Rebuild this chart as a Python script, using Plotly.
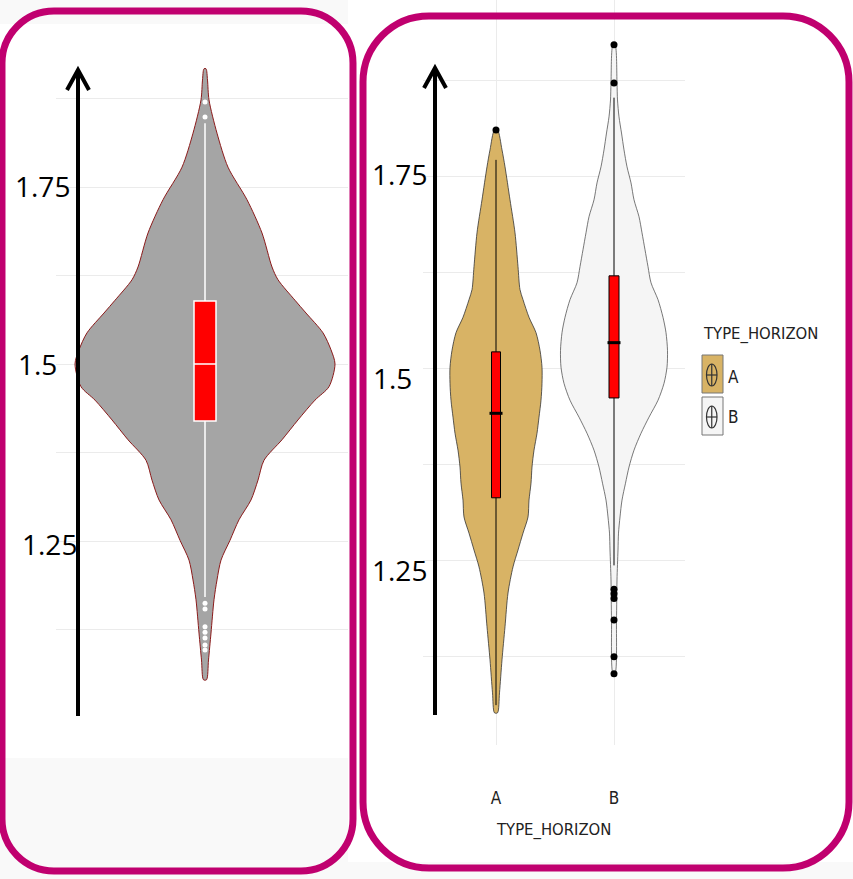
import plotly.graph_objects as go

W, H = 853, 879

# ---------------- data ----------------
# Overall distribution (left panel): value levels and violin half-width (density, px-scaled)
all_vals = [1.917, 1.901, 1.873, 1.826, 1.778, 1.732, 1.685, 1.637, 1.619, 1.590,
            1.572, 1.544, 1.520, 1.500, 1.468, 1.449, 1.421, 1.393, 1.364, 1.336,
            1.308, 1.280, 1.251, 1.223, 1.195, 1.167, 1.120, 1.082, 1.054]
all_dens = [1, 2.5, 4, 12, 23, 42, 57, 67, 73, 90,
            101, 118, 126, 130, 124, 110, 93, 77, 59, 53,
            46, 34, 25, 16, 12, 9, 6, 3.5, 1.5]
all_box = dict(q1=1.4195, median=1.500, q3=1.589, lo=1.171, hi=1.840)
all_outliers = [1.870, 1.849, 1.162, 1.154, 1.129, 1.121, 1.113, 1.103, 1.096]

# By TYPE_HORIZON (right panel)
categories = ["A", "B"]
a_vals = [1.810, 1.784, 1.762, 1.719, 1.676, 1.632, 1.602, 1.589, 1.566, 1.546,
          1.523, 1.501, 1.480, 1.458, 1.436, 1.415, 1.393, 1.371, 1.350, 1.328,
          1.306, 1.285, 1.263, 1.241, 1.207, 1.163, 1.120, 1.077, 1.051]
a_dens = [1.5, 6, 9, 14, 19, 22, 24, 27, 33, 40,
          44, 46, 46, 45, 43, 41, 38, 36, 35, 33,
          32, 27, 22, 17, 12, 9, 6, 3.5, 1.5]
b_vals = [1.921, 1.871, 1.849, 1.827, 1.806, 1.784, 1.762, 1.741, 1.719, 1.697,
          1.676, 1.654, 1.632, 1.611, 1.589, 1.566, 1.546, 1.523, 1.501, 1.480,
          1.458, 1.436, 1.415, 1.393, 1.371, 1.350, 1.328, 1.306, 1.285, 1.263,
          1.224, 1.172, 1.102]
b_dens = [1, 3, 3.5, 5, 7.5, 10, 13, 17, 20, 25,
          28, 31, 34, 37, 44, 49, 52, 53.5, 53, 50,
          44, 35, 27, 20, 15, 11.5, 8, 6, 4.5, 4,
          3, 2.5, 1]
a_box = dict(q1=1.331, median=1.441, q3=1.521, lo=1.061, hi=1.771)
b_box = dict(q1=1.461, median=1.533, q3=1.620, lo=1.243, hi=1.852)
a_outliers = [1.810]
b_outliers = [1.921, 1.871, 1.212, 1.206, 1.200, 1.172, 1.124, 1.102]

# y-axis tick labels
left_ticks = ["1.75", "1.5", "1.25"]
right_ticks = ["1.75", "1.5", "1.25"]

# ---------------- styling ----------------
MAGENTA = "#c0006f"
GRID = "#ebebeb"
FILL_ALL = "#a5a5a5"
FILL_A = "#d8b365"
FILL_B = "#f5f5f5"
NARROW = "Liberation Sans Narrow, DejaVu Sans Condensed, Arial Narrow, sans-serif"
LABEL_FONT = "Open Sans, Noto Sans, sans-serif"

L_SCALE = 130.0   # density units per x-axis unit (left)
R_SCALE = 118.0   # density units per x-axis unit (right)


def px(x):
    return x / W


def py(y):
    return 1 - y / H


def violin_outline(pos, vals, dens, scale):
    xs = [pos + d / scale for d in dens] + [pos - d / scale for d in reversed(dens)]
    ys = list(vals) + list(reversed(vals))
    return xs + [xs[0]], ys + [ys[0]]


fig = go.Figure()

# ---- left panel: violin on (x, y), box + points on the overlaid (x3, y3) ----
xs, ys = violin_outline(0, all_vals, all_dens, L_SCALE)
fig.add_trace(go.Scatter(x=xs, y=ys, fill="toself", fillcolor=FILL_ALL, mode="lines",
                         line=dict(color="#8b1a1a", width=1, shape="spline", smoothing=0.8),
                         xaxis="x", yaxis="y", hoverinfo="skip", showlegend=False))
fig.add_trace(go.Box(x=[0], q1=[all_box["q1"]], median=[all_box["median"]], q3=[all_box["q3"]],
                     lowerfence=[all_box["lo"]], upperfence=[all_box["hi"]], orientation="v",
                     width=22 / L_SCALE, whiskerwidth=0, fillcolor="#ff0000",
                     line=dict(color="white", width=1.5), boxpoints=False,
                     xaxis="x3", yaxis="y3", showlegend=False))
fig.add_trace(go.Scatter(x=[0] * len(all_outliers), y=all_outliers, mode="markers",
                         marker=dict(color="white", size=5), xaxis="x3", yaxis="y3",
                         hoverinfo="skip", showlegend=False))

# ---- right panel: violins on (x2, y2), boxes + points on the overlaid (x4, y4) ----
groups = [
    (0, a_vals, a_dens, a_box, a_outliers, FILL_A, "#333333", 9),
    (1, b_vals, b_dens, b_box, b_outliers, FILL_B, "#555555", 10),
]
for pos, vals, dens, box, outl, fillc, linec, bw in groups:
    xs, ys = violin_outline(pos, vals, dens, R_SCALE)
    fig.add_trace(go.Scatter(x=xs, y=ys, fill="toself", fillcolor=fillc, mode="lines",
                             line=dict(color=linec, width=0.8, shape="spline", smoothing=0.8),
                             xaxis="x2", yaxis="y2", hoverinfo="skip", showlegend=False))
for pos, vals, dens, box, outl, fillc, linec, bw in groups:
    fig.add_trace(go.Box(x=[pos], q1=[box["q1"]], median=[box["median"]], q3=[box["q3"]],
                         lowerfence=[box["lo"]], upperfence=[box["hi"]], orientation="v",
                         width=bw / R_SCALE, whiskerwidth=0, fillcolor="#ff0000",
                         line=dict(color="black", width=1), boxpoints=False,
                         xaxis="x4", yaxis="y4", showlegend=False))
    fig.add_trace(go.Scatter(x=[pos - 6.5 / R_SCALE, pos + 6.5 / R_SCALE],
                             y=[box["median"], box["median"]], mode="lines",
                             line=dict(color="black", width=3), xaxis="x4", yaxis="y4",
                             hoverinfo="skip", showlegend=False))
    fig.add_trace(go.Scatter(x=[pos] * len(outl), y=outl, mode="markers",
                             marker=dict(color="black", size=7), xaxis="x4", yaxis="y4",
                             hoverinfo="skip", showlegend=False))

# ---------------- axes ----------------
L_XDOM = [px(56), px(348)]
L_XRNG = [(56 - 205) / L_SCALE, (348 - 205) / L_SCALE]
L_YDOM = [py(705), py(24)]
L_YRNG = [1.5 - (705 - 364) / 708, 1.5 + (364 - 24) / 708]
R_XDOM = [px(423), px(685)]
R_XRNG = [(423 - 496) / R_SCALE, (685 - 496) / R_SCALE]
R_YDOM = [py(745), 1]
R_YRNG = [1.5 - (745 - 368) / 768, 1.5 + 368 / 768]

hidden = dict(visible=False, showgrid=False, zeroline=False, fixedrange=True)

fig.update_layout(
    width=W, height=H, margin=dict(l=0, r=0, t=0, b=0),
    paper_bgcolor="white", plot_bgcolor="white", showlegend=False,
    xaxis=dict(domain=L_XDOM, range=L_XRNG, anchor="y",
               showgrid=False, zeroline=False, showticklabels=False, ticks="", fixedrange=True),
    yaxis=dict(domain=L_YDOM, range=L_YRNG, anchor="x",
               tick0=1.5, dtick=0.125, showgrid=True, gridcolor=GRID, gridwidth=1,
               zeroline=False, showticklabels=False, ticks="", fixedrange=True),
    xaxis2=dict(domain=R_XDOM, range=R_XRNG,
                anchor="y2", tickvals=[0, 1], ticktext=categories, showgrid=True,
                gridcolor=GRID, gridwidth=1, zeroline=False, ticks="outside", ticklen=38,
                tickcolor="rgba(0,0,0,0)", tickfont=dict(family=NARROW, size=17, color="#222"),
                fixedrange=True),
    yaxis2=dict(domain=R_YDOM, range=R_YRNG,
                anchor="x2", tick0=1.5, dtick=0.125, showgrid=True, gridcolor=GRID, gridwidth=1,
                zeroline=False, showticklabels=False, ticks="", fixedrange=True),
    xaxis3=dict(overlaying="x", range=L_XRNG, anchor="y3", **hidden),
    yaxis3=dict(overlaying="y", range=L_YRNG, anchor="x3", **hidden),
    xaxis4=dict(overlaying="x2", range=R_XRNG, anchor="y4", **hidden),
    yaxis4=dict(overlaying="y2", range=R_YRNG, anchor="x4", **hidden),
)

shapes = []


def prect(x0, y0, x1, y1, **kw):
    shapes.append(dict(type="rect", xref="paper", yref="paper",
                       x0=px(x0), x1=px(x1), y0=py(y1), y1=py(y0), **kw))


# soft grey margins of the canvas
prect(0, 0, 348, 24, fillcolor="#f9f9f9", line=dict(width=0), layer="below")
prect(0, 758, 348, 879, fillcolor="#f9f9f9", line=dict(width=0), layer="below")
prect(348, 862, 853, 879, fillcolor="#f9f9f9", line=dict(width=0), layer="below")

# white boxes behind the y labels hide the grid there
for x0, y0, x1, y1 in [(56, 178, 121, 196), (56, 532, 128, 550), (56, 357, 80, 372),
                       (423, 166, 477, 184), (423, 360, 438, 376), (423, 455, 438, 471),
                       (423, 551, 460, 567), (423, 72, 445, 88)]:
    prect(x0, y0, x1, y1, fillcolor="white", line=dict(width=0), layer="between")

# rounded panel frames
K = 0.5523


def rounded_path(x0, y0, x1, y1, r):
    c = r * (1 - K)

    def P(x, y):
        return f"{px(x):.5f},{py(y):.5f}"
    return (f"M{P(x0 + r, y0)} L{P(x1 - r, y0)} C{P(x1 - c, y0)} {P(x1, y0 + c)} {P(x1, y0 + r)} "
            f"L{P(x1, y1 - r)} C{P(x1, y1 - c)} {P(x1 - c, y1)} {P(x1 - r, y1)} "
            f"L{P(x0 + r, y1)} C{P(x0 + c, y1)} {P(x0, y1 - c)} {P(x0, y1 - r)} "
            f"L{P(x0, y0 + r)} C{P(x0, y0 + c)} {P(x0 + c, y0)} {P(x0 + r, y0)} Z")


for x0, y0, x1, y1, r in [(2, 11, 353, 871, 52), (363, 16, 849, 868, 66)]:
    shapes.append(dict(type="path", xref="paper", yref="paper", path=rounded_path(x0, y0, x1, y1, r),
                       line=dict(color=MAGENTA, width=7), layer="above"))

# vertical axis arrows
for ax_x, y_bot, y_tip in [(78, 716, 70), (435, 715, 68)]:
    shapes.append(dict(type="line", xref="paper", yref="paper", x0=px(ax_x), x1=px(ax_x),
                       y0=py(y_bot), y1=py(y_tip + 2), line=dict(color="black", width=4), layer="above"))
    shapes.append(dict(type="path", xref="paper", yref="paper",
                       path=f"M{px(ax_x - 11):.5f},{py(y_tip + 20):.5f} L{px(ax_x):.5f},{py(y_tip):.5f} "
                            f"L{px(ax_x + 11):.5f},{py(y_tip + 20):.5f}",
                       line=dict(color="black", width=4), layer="above"))

# legend keys
for (y0, y1), fillc in zip([(355, 393), (397, 435)], [FILL_A, FILL_B]):
    prect(702, y0, 723, y1, fillcolor=fillc, line=dict(color="#777777", width=1), layer="above")
    cy = (y0 + y1) / 2 + 1
    shapes.append(dict(type="circle", xref="paper", yref="paper", x0=px(706.5), x1=px(717),
                       y0=py(cy + 11), y1=py(cy - 11), line=dict(color="#333333", width=1.2),
                       layer="above"))
    shapes.append(dict(type="line", xref="paper", yref="paper", x0=px(711.75), x1=px(711.75),
                       y0=py(cy + 11), y1=py(cy - 11), line=dict(color="#333333", width=1.2),
                       layer="above"))
    shapes.append(dict(type="line", xref="paper", yref="paper", x0=px(706.5), x1=px(717),
                       y0=py(cy), y1=py(cy), line=dict(color="#333333", width=1.2), layer="above"))

fig.update_layout(shapes=shapes)

# ---------------- text ----------------
ann = []


def label(text, x, y, size, family, xanchor="center", color="black"):
    ann.append(dict(text=text, x=px(x), y=py(y), xref="paper", yref="paper", showarrow=False,
                    xanchor=xanchor, yanchor="middle",
                    font=dict(family=family, size=size, color=color)))


for t, (x, y) in zip(left_ticks, [(42.5, 186), (37.5, 364), (49.5, 544)]):
    label(t, x, y, 28, LABEL_FONT)
for t, (x, y) in zip(right_ticks, [(399.5, 174), (392.5, 378), (399.5, 570)]):
    label(t, x, y, 28, LABEL_FONT)

label("TYPE_HORIZON", 553, 830, 16.5, NARROW, color="#222")
label("TYPE_HORIZON", 701, 334, 16.5, NARROW, xanchor="left", color="#222")
for t, y in zip(categories, [377, 417]):
    label(t, 726, y, 17, NARROW, xanchor="left", color="#222")

fig.update_layout(annotations=ann)

fig.write_html("out.html", config={"displayModeBar": False})
